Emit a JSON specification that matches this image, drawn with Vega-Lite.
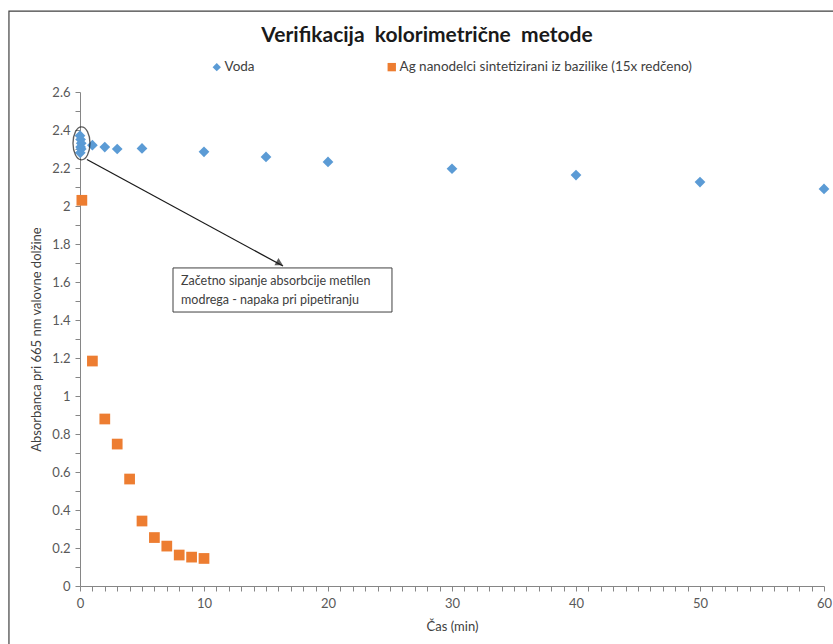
{
  "$schema": "https://vega.github.io/schema/vega-lite/v6.json",
  "width": 744,
  "height": 494,
  "autosize": {"type": "none"},
  "padding": {"left": 80, "top": 92, "right": 9, "bottom": 58},
  "background": "white",
  "config": {
    "view": {"stroke": null},
    "font": "Lato",
    "axis": {"grid": false, "domainColor": "#868686", "tickColor": "#868686", "labelColor": "#595959", "labelFontSize": 13, "labelFont": "Lato", "titleFont": "Lato", "titleFontWeight": "normal", "titleFontSize": 13, "titleColor": "#404040", "tickSize": 5, "labelOverlap": false, "labelFlush": false, "labelBound": false}
  },
  "title": {"text": "Verifikacija\u00a0\u00a0kolorimetrične\u00a0\u00a0metode", "font": "Lato", "fontSize": 21, "fontWeight": "bold", "color": "#1a1a1a", "anchor": "middle", "dx": -25, "offset": -36},
  "datasets": {
    "frame": [{"x": -5.73, "x2": 75, "y": 3.026, "y2": -1}],
    "points": [
      {"series": "Voda", "x": 0, "y": 2.37},
      {"series": "Voda", "x": 0.05, "y": 2.35},
      {"series": "Voda", "x": 0.1, "y": 2.33},
      {"series": "Voda", "x": 0.05, "y": 2.31},
      {"series": "Voda", "x": 0.1, "y": 2.3},
      {"series": "Voda", "x": 0.02, "y": 2.28},
      {"series": "Voda", "x": 1, "y": 2.32},
      {"series": "Voda", "x": 2, "y": 2.31},
      {"series": "Voda", "x": 3, "y": 2.3},
      {"series": "Voda", "x": 5, "y": 2.303},
      {"series": "Voda", "x": 10, "y": 2.285},
      {"series": "Voda", "x": 15, "y": 2.258},
      {"series": "Voda", "x": 20, "y": 2.232},
      {"series": "Voda", "x": 30, "y": 2.196},
      {"series": "Voda", "x": 40, "y": 2.163},
      {"series": "Voda", "x": 50, "y": 2.126},
      {"series": "Voda", "x": 60, "y": 2.09},
      {"series": "Ag nanodelci sintetizirani iz bazilike (15x redčeno)", "x": 0.15, "y": 2.03},
      {"series": "Ag nanodelci sintetizirani iz bazilike (15x redčeno)", "x": 1, "y": 1.184},
      {"series": "Ag nanodelci sintetizirani iz bazilike (15x redčeno)", "x": 2, "y": 0.879},
      {"series": "Ag nanodelci sintetizirani iz bazilike (15x redčeno)", "x": 3, "y": 0.747},
      {"series": "Ag nanodelci sintetizirani iz bazilike (15x redčeno)", "x": 4, "y": 0.563},
      {"series": "Ag nanodelci sintetizirani iz bazilike (15x redčeno)", "x": 5, "y": 0.342},
      {"series": "Ag nanodelci sintetizirani iz bazilike (15x redčeno)", "x": 6, "y": 0.255},
      {"series": "Ag nanodelci sintetizirani iz bazilike (15x redčeno)", "x": 7, "y": 0.21},
      {"series": "Ag nanodelci sintetizirani iz bazilike (15x redčeno)", "x": 8, "y": 0.163},
      {"series": "Ag nanodelci sintetizirani iz bazilike (15x redčeno)", "x": 9, "y": 0.152},
      {"series": "Ag nanodelci sintetizirani iz bazilike (15x redčeno)", "x": 10, "y": 0.145}
    ],
    "ellipse": [{"x": 0.12, "y": 2.33}],
    "arrow": [{"x": 0.56, "y": 2.245, "x2": 16.37, "y2": 1.684}],
    "arrowhead": [{"x": 16.1, "y": 1.698}],
    "box": [{"x": 7.5, "x2": 25.16, "y": 1.674, "y2": 1.442}],
    "note": [
      {"x": 8.15, "y": 1.605, "text": "Začetno sipanje absorbcije metilen"},
      {"x": 8.15, "y": 1.505, "text": "modrega - napaka pri pipetiranju"}
    ]
  },
  "encoding": {
    "x": {"field": "x", "type": "quantitative", "scale": {"domain": [0, 60], "nice": false, "zero": false},
      "axis": {"title": "Čas (min)", "values": [0,1,2,3,4,5,6,7,8,9,10,11,12,13,14,15,16,17,18,19,20,21,22,23,24,25,26,27,28,29,30,31,32,33,34,35,36,37,38,39,40,41,42,43,44,45,46,47,48,49,50,51,52,53,54,55,56,57,58,59,60],
        "labelExpr": "datum.value % 10 == 0 ? datum.label : ''", "labelPadding": 6, "titlePadding": 10}},
    "y": {"field": "y", "type": "quantitative", "scale": {"domain": [0, 2.6], "nice": false, "zero": false},
      "axis": {"title": "Absorbanca pri 665 nm valovne dolžine", "values": [0,0.1,0.2,0.3,0.4,0.5,0.6,0.7,0.8,0.9,1,1.1,1.2,1.3,1.4,1.5,1.6,1.7,1.8,1.9,2,2.1,2.2,2.3,2.4,2.5,2.6],
        "labelExpr": "round(datum.value*10) % 2 == 0 ? format(datum.value, '~g') : ''", "labelPadding": 5, "titlePadding": 8}}
  },
  "layer": [
    {
      "data": {"name": "frame"},
      "mark": {"type": "rect", "fill": null, "stroke": "#404040", "strokeWidth": 1.2, "clip": false},
      "encoding": {"x2": {"field": "x2"}, "y2": {"field": "y2"}}
    },
    {
      "data": {"name": "points"},
      "mark": {"type": "point", "filled": true, "opacity": 1},
      "encoding": {
        "color": {"field": "series", "type": "nominal", "sort": null,
          "scale": {"domain": ["Voda", "Ag nanodelci sintetizirani iz bazilike (15x redčeno)"], "range": ["#5B9BD5", "#ED7D31"]},
          "legend": {"title": null, "orient": "none", "direction": "horizontal", "legendX": 130, "legendY": -32, "labelFontSize": 13.5, "labelColor": "#404040", "labelFont": "Lato", "labelLimit": 500, "columnPadding": 130, "symbolSize": 70, "labelOffset": 1}},
        "shape": {"field": "series", "type": "nominal", "sort": null,
          "scale": {"domain": ["Voda", "Ag nanodelci sintetizirani iz bazilike (15x redčeno)"], "range": ["diamond", "square"]}},
        "size": {"value": 115}
      }
    },
    {
      "data": {"name": "ellipse"},
      "mark": {"type": "point", "shape": "M -0.515,0 A 0.515,1 0 1,0 0.515,0 A 0.515,1 0 1,0 -0.515,0 Z", "filled": false, "stroke": "#1a1a1a", "strokeWidth": 1.3, "size": 1089, "clip": false},
      "encoding": {}
    },
    {
      "data": {"name": "arrow"},
      "mark": {"type": "rule", "color": "#1a1a1a", "strokeWidth": 1.3},
      "encoding": {"x2": {"field": "x2"}, "y2": {"field": "y2"}}
    },
    {
      "data": {"name": "arrowhead"},
      "mark": {"type": "point", "shape": "triangle-right", "filled": true, "color": "#1a1a1a", "size": 70, "angle": 29},
      "encoding": {}
    },
    {
      "data": {"name": "box"},
      "mark": {"type": "rect", "fill": "white", "stroke": "#404040", "strokeWidth": 1},
      "encoding": {"x2": {"field": "x2"}, "y2": {"field": "y2"}}
    },
    {
      "data": {"name": "note"},
      "mark": {"type": "text", "align": "left", "baseline": "middle", "font": "Lato", "fontSize": 12.5, "color": "#404040"},
      "encoding": {"text": {"field": "text"}}
    }
  ]
}
